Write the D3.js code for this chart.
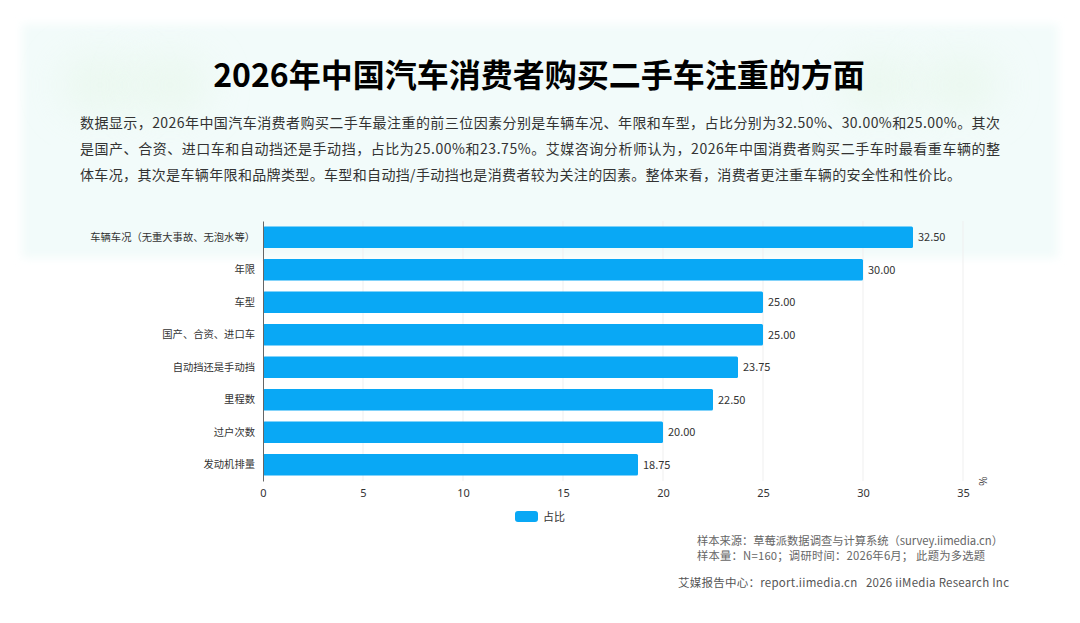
<!DOCTYPE html>
<html>
<head>
<meta charset="utf-8">
<script src="https://cdn.jsdelivr.net/npm/d3@7"></script>
<style>
  body { margin: 0; background: #fff; }
  svg { display: block; font-family: "Noto Sans CJK SC", "Noto Sans", sans-serif; }
</style>
</head>
<body>
<svg id="chart" width="1080" height="623"></svg>
<script>
// data
const categories = ["车辆车况（无重大事故、无泡水等）", "年限", "车型", "国产、合资、进口车",
    "自动挡还是手动挡", "里程数", "过户次数", "发动机排量"];
const shares = [32.50, 30.00, 25.00, 25.00, 23.75, 22.50, 20.00, 18.75];
const xTicks = [0, 5, 10, 15, 20, 25, 30, 35];

const titleText = "2026年中国汽车消费者购买二手车注重的方面";
const paragraph = [
    "数据显示，2026年中国汽车消费者购买二手车最注重的前三位因素分别是车辆车况、年限和车型，占比分别为32.50%、30.00%和25.00%。其次",
    "是国产、合资、进口车和自动挡还是手动挡，占比为25.00%和23.75%。艾媒咨询分析师认为，2026年中国消费者购买二手车时最看重车辆的整",
    "体车况，其次是车辆年限和品牌类型。车型和自动挡/手动挡也是消费者较为关注的因素。整体来看，消费者更注重车辆的安全性和性价比。"
];
const notes = [
    "样本来源：草莓派数据调查与计算系统（survey.iimedia.cn）",
    "样本量：N=160；调研时间：2026年6月； 此题为多选题"
];
const footer = "艾媒报告中心：report.iimedia.cn   2026 iiMedia Research Inc";

const svg = d3.select("#chart");

// background panel with soft edge
let defs = svg.append("defs");
let blur = defs.append("filter").attr("id", "soft").attr("x", "-10%").attr("y", "-20%")
    .attr("width", "120%").attr("height", "140%");
blur.append("feGaussianBlur").attr("stdDeviation", 5);
let blob = defs.append("filter").attr("id", "blob").attr("x", "-50%").attr("y", "-50%")
    .attr("width", "200%").attr("height", "200%");
blob.append("feGaussianBlur").attr("stdDeviation", 20);

svg.append("rect")
    .attr("x", 22).attr("y", 24).attr("width", 1036).attr("height", 234)
    .attr("fill", "#f2fbfa").attr("filter", "url(#soft)");

// faint green blobs behind the title
[[100, 85], [170, 85], [880, 85], [960, 85]].forEach(function(p) {
    svg.append("ellipse").attr("cx", p[0]).attr("cy", p[1]).attr("rx", 40).attr("ry", 30)
        .attr("fill", "#e6f6e8").attr("opacity", 0.6).attr("filter", "url(#blob)");
});

// title
svg.append("text")
    .attr("x", 539).attr("y", 87)
    .attr("text-anchor", "middle")
    .attr("font-size", 32).attr("font-weight", 700)
    .attr("fill", "#000")
    .text(titleText);

// description
svg.selectAll(".para").data(paragraph).join("text")
    .attr("class", "para")
    .attr("x", 80)
    .attr("y", (d, i) => 128 + i * 26)
    .attr("font-size", 14)
    .attr("fill", "#333")
    .attr("textLength", (d, i) => i < 2 ? 920 : 881)
    .attr("lengthAdjust", "spacing")
    .text(d => d);

// chart area
const margin = {left: 263, top: 221};
const width = 700, height = 260;

const x = d3.scaleLinear().domain([0, 35]).range([0, width]);
const y = d3.scaleBand().domain(categories).range([0, height]).paddingInner(0.34).paddingOuter(0.17);

const g = svg.append("g").attr("transform", `translate(${margin.left},${margin.top})`);

// gridlines
g.selectAll(".grid").data(xTicks.slice(1)).join("line")
    .attr("class", "grid")
    .attr("x1", d => x(d)).attr("x2", d => x(d))
    .attr("y1", 0).attr("y2", height)
    .attr("stroke", "#efefef").attr("stroke-width", 1);

// bars
g.selectAll(".bar").data(shares).join("rect")
    .attr("class", "bar")
    .attr("x", 0)
    .attr("y", (d, i) => y(categories[i]))
    .attr("width", d => x(d))
    .attr("height", y.bandwidth())
    .attr("rx", 1.5)
    .attr("fill", "#09a8f5");

// value labels
g.selectAll(".val").data(shares).join("text")
    .attr("class", "val")
    .attr("x", d => x(d) + 5)
    .attr("y", (d, i) => y(categories[i]) + y.bandwidth() / 2)
    .attr("dy", "0.35em")
    .attr("font-size", 11)
    .attr("fill", "#333")
    .text(d => d.toFixed(2));

// y axis
const yAxis = g.append("g").call(d3.axisLeft(y).tickSize(0).tickPadding(8));
yAxis.select(".domain").attr("stroke", "#666");
yAxis.selectAll("text").attr("font-size", 10.3).attr("fill", "#333")
    .attr("font-family", "'Noto Sans CJK SC', sans-serif");

// x axis
const xAxis = g.append("g").attr("transform", `translate(0,${height})`)
    .call(d3.axisBottom(x).tickValues(xTicks).tickSize(0).tickPadding(8));
xAxis.select(".domain").remove();
xAxis.selectAll("text").attr("font-size", 11).attr("fill", "#333")
    .attr("font-family", "'Noto Sans', sans-serif");

// unit
g.append("text")
    .attr("transform", `translate(${width + 16},${height}) rotate(90)`)
    .attr("font-size", 10).attr("fill", "#333")
    .attr("text-anchor", "middle")
    .text("%");

// legend
svg.append("rect").attr("x", 515).attr("y", 511).attr("width", 23).attr("height", 11)
    .attr("rx", 3).attr("fill", "#09a8f5");
svg.append("text").attr("x", 543).attr("y", 517).attr("dy", "0.35em")
    .attr("font-size", 11).attr("fill", "#333").text("占比");

// notes
const noteLen = [306, 288];
svg.selectAll(".note").data(notes).join("text")
    .attr("class", "note")
    .attr("x", 697)
    .attr("y", (d, i) => 545 + i * 15)
    .attr("font-size", 11.3).attr("fill", "#666")
    .attr("textLength", (d, i) => noteLen[i])
    .attr("lengthAdjust", "spacing")
    .text(d => d);

svg.append("text")
    .attr("x", 678).attr("y", 587)
    .attr("font-size", 11.5).attr("fill", "#555")
    .attr("textLength", 331)
    .attr("lengthAdjust", "spacing")
    .style("white-space", "pre")
    .text(footer);
</script>
</body>
</html>
